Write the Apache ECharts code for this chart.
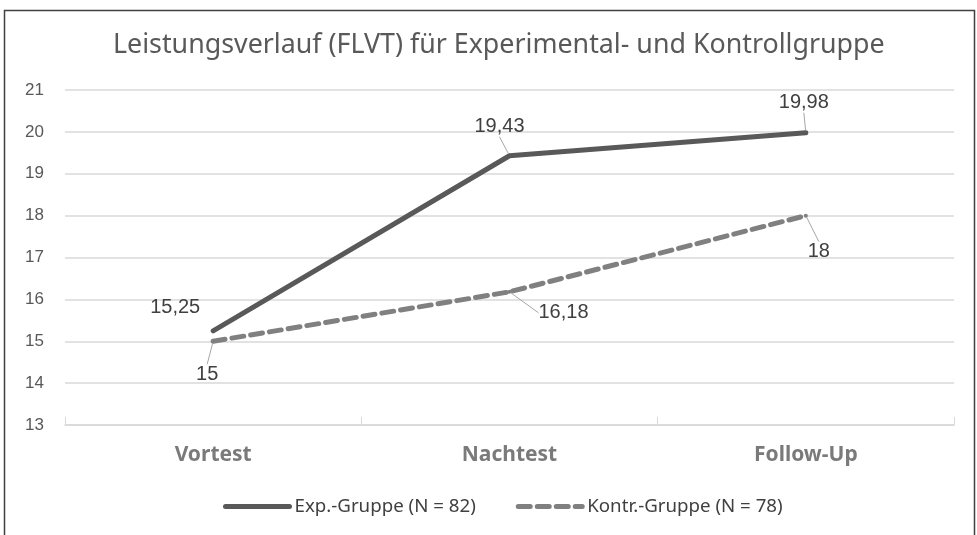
<!DOCTYPE html>
<html><head><meta charset="utf-8">
<script src="https://cdn.jsdelivr.net/npm/echarts@6/dist/echarts.min.js"></script>
<style>html,body{margin:0;padding:0;background:#fff}#c{width:977px;height:535px}</style>
</head><body><div id="c"></div>
<script>
var categories = ['Vortest', 'Nachtest', 'Follow-Up'];
var expValues = [15.25, 19.43, 19.98];
var kontrValues = [15, 16.18, 18];
var seriesNames = ['Exp.-Gruppe (N = 82)', 'Kontr.-Gruppe (N = 78)'];
var titleText = 'Leistungsverlauf (FLVT) für Experimental- und Kontrollgruppe';
var yMin = 13, yMax = 21, yStep = 1;

var expOffsets = [[-38, 3], [-10, -3], [-2, -4]];
var expLeader = [false, true, true];
var kontrOffsets = [[-6, 3], [54, -9], [13, 6]];

function fmt(v) { return String(v).replace('.', ','); }

var chart = echarts.init(document.getElementById('c'), null, {renderer: 'canvas'});
chart.setOption({
  animation: false,
  backgroundColor: '#fff',
  title: {
    text: titleText, left: 108, top: 27,
    textStyle: {fontFamily: 'Noto Sans', fontSize: 26.8, fontWeight: 'normal', color: '#595959'}
  },
  graphic: [{
    type: 'rect', shape: {x: 4.5, y: 10.5, width: 970, height: 530},
    style: {fill: 'none', stroke: '#404040', lineWidth: 1.5}, silent: true
  }],
  legend: {
    bottom: 14, left: 218, itemWidth: 64, itemHeight: 14, itemGap: 40,
    itemStyle: {opacity: 0},
    lineStyle: {width: 5, cap: 'round'},
    textStyle: {fontFamily: 'Noto Sans', fontSize: 18.7, color: '#404040'},
    data: seriesNames
  },
  grid: {left: 65, right: 23, top: 90, bottom: 110, containLabel: false},
  xAxis: {
    type: 'category', data: categories, boundaryGap: true,
    axisLine: {lineStyle: {color: '#d9d9d9', width: 1.5}},
    axisTick: {show: true, inside: true, length: 8, lineStyle: {color: '#d9d9d9'}},
    axisLabel: {margin: 20, fontFamily: 'Noto Sans', fontWeight: 'bold', fontSize: 21, color: '#7a7a7a'}
  },
  yAxis: {
    type: 'value', min: yMin, max: yMax, interval: yStep,
    axisLine: {show: false}, axisTick: {show: false},
    axisLabel: {margin: 21, fontFamily: 'Liberation Sans', fontSize: 17, color: '#595959'},
    splitLine: {lineStyle: {color: '#d9d9d9', width: 1.5}}
  },
  series: [{
    name: seriesNames[0], type: 'line',
    data: expValues.map(function (v, i) { return {value: v, labelLine: {show: expLeader[i]}}; }),
    symbol: 'circle', symbolSize: 4, showSymbol: true,
    lineStyle: {color: '#595959', width: 5, cap: 'round'},
    itemStyle: {color: '#595959'},
    label: {show: true, position: 'top', distance: 14, formatter: function (p) { return fmt(p.value); },
      fontFamily: 'Liberation Sans', fontSize: 20, color: '#404040'},
    labelLine: {show: true, lineStyle: {color: '#a6a6a6', width: 1}},
    labelLayout: function (p) { var o = expOffsets[p.dataIndex]; return {dx: o[0], dy: o[1]}; }
  }, {
    name: seriesNames[1], type: 'line', data: kontrValues,
    symbol: 'circle', symbolSize: 4, showSymbol: true,
    lineStyle: {color: '#808080', width: 5, type: [12, 7], cap: 'round'},
    itemStyle: {color: '#808080'},
    label: {show: true, position: 'bottom', distance: 18, formatter: function (p) { return fmt(p.value); },
      fontFamily: 'Liberation Sans', fontSize: 20, color: '#404040'},
    labelLine: {show: true, lineStyle: {color: '#a6a6a6', width: 1}},
    labelLayout: function (p) { var o = kontrOffsets[p.dataIndex]; return {dx: o[0], dy: o[1]}; }
  }]
});
</script></body></html>
